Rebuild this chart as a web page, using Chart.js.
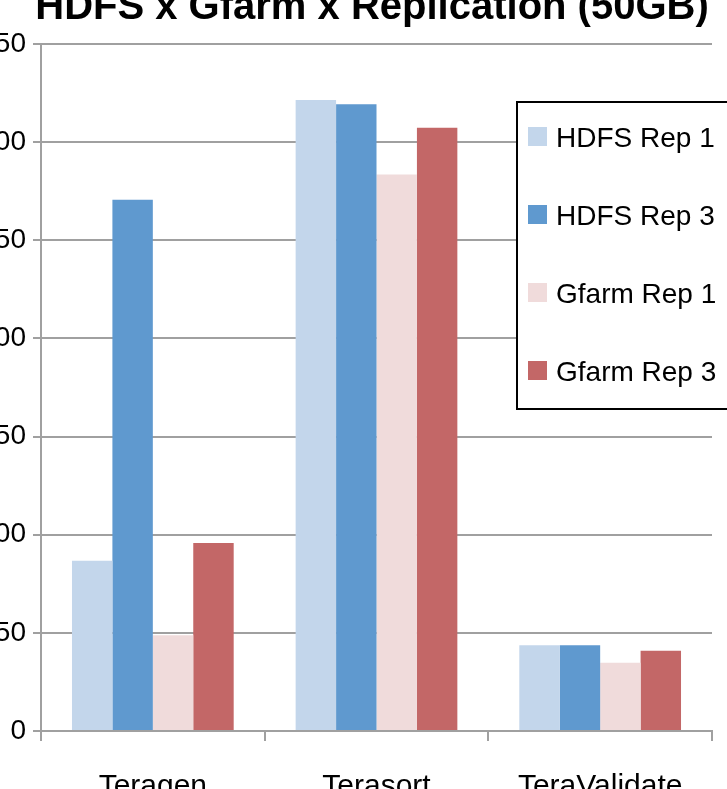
<!DOCTYPE html>
<html>
<head>
<meta charset="utf-8">
<title>HDFS x Gfarm x Replication (50GB)</title>
<script src="https://cdn.jsdelivr.net/npm/chart.js@4/dist/chart.umd.min.js"></script>
<style>
  html, body { margin: 0; padding: 0; background: #ffffff; overflow: hidden; }
  #wrap { position: relative; width: 727px; height: 789px; }
</style>
</head>
<body>
<div id="wrap"><canvas id="c" width="727" height="789"></canvas></div>
<script>
// Benchmark phases and elapsed times (seconds) per storage / replication setting
const TITLE = 'HDFS x Gfarm x Replication (50GB)';
const categories = ['Teragen', 'Terasort', 'TeraValidate'];
const seriesNames = ['HDFS Rep 1', 'HDFS Rep 3', 'Gfarm Rep 1', 'Gfarm Rep 3'];
const hdfsRep1  = [86.7, 321.5, 43.7];
const hdfsRep3  = [270.6, 319.3, 43.7];
const gfarmRep1 = [48.8, 283.5, 34.8];
const gfarmRep3 = [95.8, 307.3, 40.9];
const yMin = 0, yMax = 350, yStep = 50;

const colors = ['#c3d6eb', '#5f99cf', '#f0dbdb', '#c36767'];
const gridColor = '#a0a0a0';
const FONT = "'Liberation Sans', Arial, sans-serif";

// Title drawn across the top of the canvas
const titlePlugin = {
  id: 'topTitle',
  afterDraw(chart) {
    const ctx = chart.ctx;
    ctx.save();
    ctx.font = "bold 40px " + FONT;
    ctx.fillStyle = '#000';
    ctx.textAlign = 'center';
    ctx.textBaseline = 'alphabetic';
    ctx.fillText(TITLE, 372, 19);
    ctx.restore();
  }
};

// Boxed legend sitting over the right side of the plot
const boxLegend = {
  id: 'boxLegend',
  afterDraw(chart) {
    const ctx = chart.ctx;
    const x = 517, y = 102, w = 260, h = 307;
    ctx.save();
    ctx.fillStyle = '#fff';
    ctx.fillRect(x, y, w, h);
    ctx.strokeStyle = '#000';
    ctx.lineWidth = 2;
    ctx.strokeRect(x, y, w, h);
    ctx.font = "28px " + FONT;
    ctx.textAlign = 'left';
    ctx.textBaseline = 'alphabetic';
    chart.data.datasets.forEach((ds, i) => {
      const top = 127 + i * 78;
      ctx.fillStyle = ds.backgroundColor;
      ctx.fillRect(528, top, 19, 19);
      ctx.fillStyle = '#000';
      ctx.fillText(ds.label, 556, top + 20);
    });
    ctx.restore();
  }
};

const series = [hdfsRep1, hdfsRep3, gfarmRep1, gfarmRep3];

new Chart(document.getElementById('c'), {
  type: 'bar',
  data: {
    labels: categories,
    datasets: series.map((vals, i) => ({
      label: seriesNames[i],
      data: vals,
      backgroundColor: colors[i],
      borderWidth: 0,
      categoryPercentage: 0.723,
      barPercentage: 1.0
    }))
  },
  options: {
    responsive: false,
    animation: false,
    devicePixelRatio: 1,
    layout: { padding: { top: 44, right: 15, bottom: 0, left: 0 } },
    plugins: {
      legend: { display: false },
      title: { display: false },
      tooltip: { enabled: false }
    },
    scales: {
      x: {
        grid: {
          display: true,
          drawOnChartArea: false,
          drawTicks: true,
          tickLength: 10,
          color: gridColor,
          lineWidth: 2,
          offset: true
        },
        border: { display: true, color: gridColor, width: 2 },
        ticks: {
          color: '#000',
          font: { family: FONT, size: 30 },
          padding: 28,
          maxRotation: 0
        },
        afterFit(scale) { scale.height = 58; }
      },
      y: {
        min: yMin,
        max: yMax,
        grid: {
          color: gridColor,
          lineWidth: 2,
          drawTicks: true,
          tickLength: 8
        },
        border: { display: true, color: gridColor, width: 2 },
        ticks: {
          stepSize: yStep,
          color: '#000',
          font: { family: FONT, size: 28 },
          padding: 7
        },
        afterFit(scale) { scale.width = 41; }
      }
    }
  },
  plugins: [titlePlugin, boxLegend]
});
</script>
</body>
</html>
